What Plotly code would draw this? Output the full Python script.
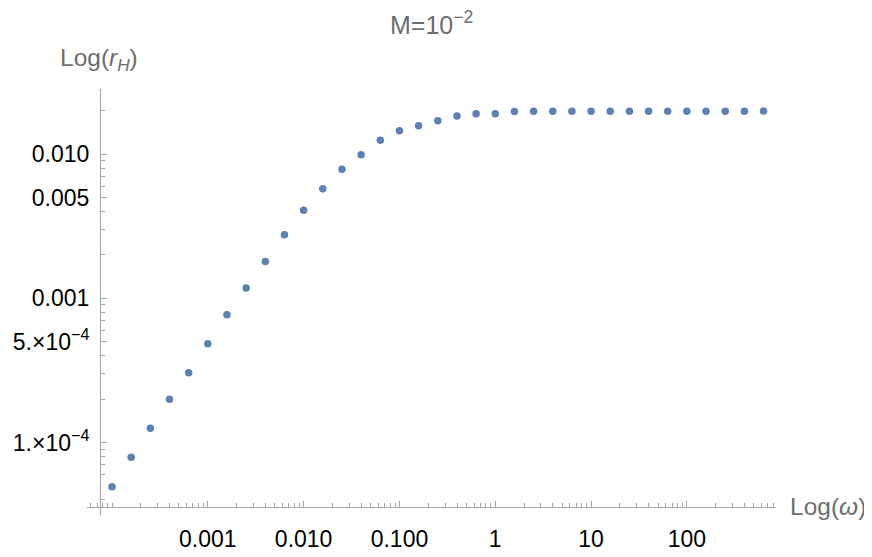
import plotly.graph_objects as go

# Data (log-log)
omega = [1e-4, 1.585e-4, 2.512e-4, 3.981e-4, 6.310e-4,
         1e-3, 1.585e-3, 2.512e-3, 3.981e-3, 6.310e-3,
         1e-2, 1.585e-2, 2.512e-2, 3.981e-2, 6.310e-2,
         0.1, 0.1585, 0.2512, 0.3981, 0.6310,
         1.0, 1.585, 2.512, 3.981, 6.310,
         10.0, 15.85, 25.12, 39.81, 63.10,
         100.0, 158.5, 251.2, 398.1, 631.0]
r_H = [4.93e-5, 7.89e-5, 1.253e-4, 1.99e-4, 3.04e-4,
       4.83e-4, 7.69e-4, 1.18e-3, 1.80e-3, 2.76e-3,
       4.07e-3, 5.74e-3, 7.83e-3, 9.89e-3, 0.01245,
       0.01452, 0.01571, 0.01702, 0.01835, 0.01902,
       0.01902, 0.01976, 0.01980, 0.01980, 0.01980,
       0.01980, 0.01980, 0.01980, 0.01980, 0.01980,
       0.01980, 0.01980, 0.01980, 0.01980, 0.01985]

x_tickvals = [1e-3, 1e-2, 1e-1, 1, 10, 100]
x_ticktext = ["0.001", "0.010", "0.100", "1", "10", "100"]
y_tickvals = [1e-4, 5e-4, 1e-3, 5e-3, 1e-2]
y_ticktext = ["1.\u00d710<sup>\u22124</sup>", "5.\u00d710<sup>\u22124</sup>", "0.001", "0.005", "0.010"]

x_minor = [m * 10.0 ** e for e in range(-5, 3) for m in range(2, 10)] + [1e-4]
y_minor = [m * 10.0 ** e for e in range(-5, -1) for m in (2, 3, 4, 6, 7, 8, 9)] + [2e-2]

axis_col = "#a6a6a6"
label_col = "#6e6e6e"
font_fam = "Liberation Sans, Arial, sans-serif"

fig = go.Figure()
fig.add_trace(go.Scatter(
    x=omega, y=r_H, mode="markers",
    marker=dict(color="#5E81B5", size=7.5, line=dict(width=0)),
    showlegend=False, hoverinfo="x+y"))

# page has an 8px body margin, so the figure is 8px smaller than the window
W, H = 864, 549
left, right, top, bottom = 79, 768, 81, 507
x_axis_y = 498.7   # pixel row of x axis
y_axis_x = 92      # pixel column of y axis
xpos = (bottom - x_axis_y) / (bottom - top)
ypos = (y_axis_x - left) / (right - left)
xrange_ = [-4.261, 2.93]
yrange_ = [-4.503, -1.549]

fig.update_layout(
    width=W, height=H,
    margin=dict(l=left, r=W - right, t=top, b=H - bottom, pad=0, autoexpand=False),
    paper_bgcolor="white", plot_bgcolor="white",
    font=dict(family=font_fam, size=23, color="black"),
    xaxis=dict(
        type="log", range=xrange_, anchor="free", position=xpos, automargin=False,
        showgrid=False, zeroline=False, showline=True, linecolor=axis_col, linewidth=1,
        tickmode="array", tickvals=x_tickvals, ticktext=x_ticktext,
        ticks="inside", ticklen=6, tickcolor=axis_col, tickwidth=1,
        tickfont=dict(size=23, color="black"), ticklabelstandoff=12,
        minor=dict(tickmode="array", tickvals=x_minor, ticks="inside", ticklen=3.5,
                   tickcolor=axis_col, tickwidth=1, showgrid=False),
    ),
    yaxis=dict(
        type="log", range=yrange_, anchor="free", position=ypos, automargin=False,
        showgrid=False, zeroline=False, showline=True, linecolor=axis_col, linewidth=1,
        tickmode="array", tickvals=y_tickvals, ticktext=y_ticktext,
        ticks="inside", ticklen=6, tickcolor=axis_col, tickwidth=1,
        tickfont=dict(size=23, color="black"), ticklabelstandoff=6,
        minor=dict(tickmode="array", tickvals=y_minor, ticks="inside", ticklen=3.5,
                   tickcolor=axis_col, tickwidth=1, showgrid=False),
    ),
    annotations=[
        dict(text="M=10<sup>\u22122</sup>", xref="paper", yref="paper", x=0.5, y=1,
             yshift=66, xanchor="center", yanchor="middle", showarrow=False,
             font=dict(family=font_fam, size=25, color=label_col)),
        dict(text="Log(<i>r</i><sub><i>H</i></sub>)", xref="paper", yref="paper",
             x=ypos, y=1, xshift=-1, yshift=30, xanchor="center", yanchor="middle",
             showarrow=False, font=dict(family=font_fam, size=24.5, color=label_col)),
        dict(text="Log(<i>\u03c9</i>)", xref="paper", yref="paper",
             x=1, y=xpos, xshift=12, yshift=0, xanchor="left",
             yanchor="middle", showarrow=False,
             font=dict(family=font_fam, size=24.5, color=label_col)),
    ],
)

fig.write_html("out.html")
